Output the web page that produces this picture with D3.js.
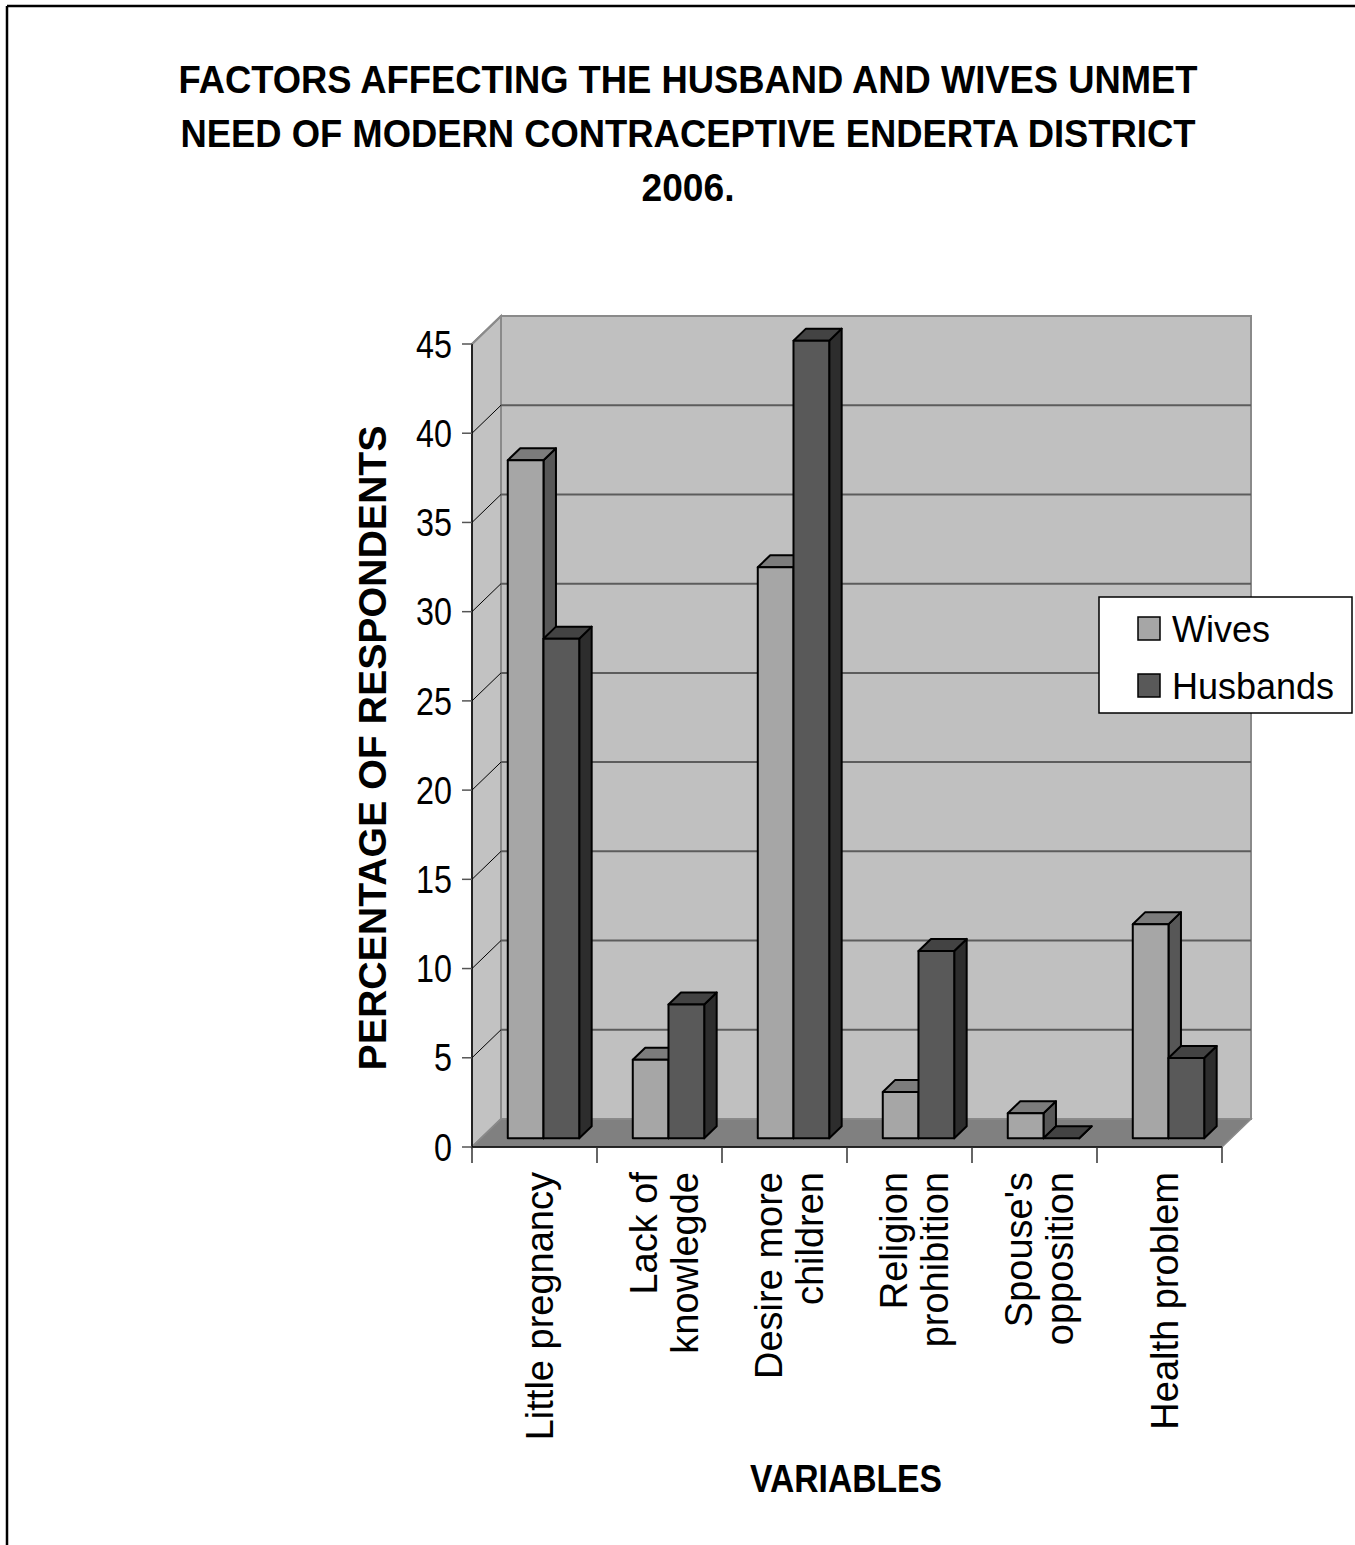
<!DOCTYPE html>
<html>
<head>
<meta charset="utf-8">
<script src="https://cdn.jsdelivr.net/npm/d3@7/dist/d3.min.js"></script>
<style>
  html, body { margin: 0; padding: 0; background: #fff; }
  svg { display: block; font-family: "Liberation Sans", Arial, sans-serif; }
</style>
</head>
<body>
<svg id="chart" width="1355" height="1545"></svg>
<script>
// Factor categories (each entry is the lines of its axis label)
const categories = [
  ["Little pregnancy"],
  ["Lack of", "knowlegde"],
  ["Desire more", "children"],
  ["Religion", "prohibition"],
  ["Spouse's", "opposition"],
  ["Health problem"]
];
const seriesNames = ["Wives", "Husbands"];
const wives    = [38, 4.4, 32, 2.6, 1.4, 12];
const husbands = [28, 7.5, 44.7, 10.5, 0, 4.5];
const yTicks = [0, 5, 10, 15, 20, 25, 30, 35, 40, 45];
const titleLines = [
  "FACTORS AFFECTING THE HUSBAND AND WIVES UNMET",
  "NEED OF MODERN CONTRACEPTIVE ENDERTA DISTRICT",
  "2006."
];
const yTitle = "PERCENTAGE OF RESPONDENTS";
const xTitle = "VARIABLES";

const svg = d3.select("#chart");
const W = 1355;

// frame around the page
svg.append("line").attr("x1", 7).attr("y1", 6).attr("x2", W).attr("y2", 6)
  .attr("stroke", "#000").attr("stroke-width", 2.5);
svg.append("line").attr("x1", 7).attr("y1", 6).attr("x2", 7).attr("y2", 1545)
  .attr("stroke", "#000").attr("stroke-width", 2.5);

// title (narrow bold face)
const titleG = svg.append("g");
const titleWidths = [1019, 1015, 93];
titleLines.forEach((t, i) => {
  titleG.append("text")
    .attr("x", 688).attr("y", 93 + i * 54)
    .attr("text-anchor", "middle")
    .attr("font-size", 39).attr("font-weight", "bold")
    .attr("textLength", titleWidths[i]).attr("lengthAdjust", "spacingAndGlyphs")
    .text(t);
});

// 3D plot geometry: front plane and depth offset
const x0 = 472, x1 = 1222;
const depth = { dx: 29, dy: -28 };
const barOffset = 0.31;   // bar front plane as fraction of depth
const barDepth = 0.43;    // bar thickness as fraction of depth

const y = d3.scaleLinear().domain([0, 45]).range([1147, 344]);
const x = d3.scaleBand().domain(d3.range(categories.length)).range([x0, x1]).paddingInner(0).paddingOuter(0);
const xs = d3.scaleBand().domain(seriesNames).range([0, x.bandwidth()]).paddingInner(0).paddingOuter(0.75);

const plot = svg.append("g");
const pt = (px, py, f) => [px + depth.dx * f, py + depth.dy * f];

// side wall (left)
plot.append("polygon")
  .attr("points", [pt(x0, y(0), 0), pt(x0, y(45), 0), pt(x0, y(45), 1), pt(x0, y(0), 1)].join(" "))
  .attr("fill", "#c2c2c2").attr("stroke", "#8a8a8a").attr("stroke-width", 2);
// back wall
plot.append("polygon")
  .attr("points", [pt(x0, y(0), 1), pt(x0, y(45), 1), pt(x1, y(45), 1), pt(x1, y(0), 1)].join(" "))
  .attr("fill", "#c0c0c0").attr("stroke", "#8a8a8a").attr("stroke-width", 2);
// floor
plot.append("polygon")
  .attr("points", [pt(x0, y(0), 0), pt(x1, y(0), 0), pt(x1, y(0), 1), pt(x0, y(0), 1)].join(" "))
  .attr("fill", "#808080").attr("stroke", "#8a8a8a").attr("stroke-width", 1.5);

// gridlines: back wall horizontal, side wall diagonal
yTicks.filter(v => v > 0 && v < 45).forEach(v => {
  const a = pt(x0, y(v), 1), b = pt(x1, y(v), 1);
  plot.append("line").attr("x1", a[0]).attr("y1", a[1]).attr("x2", b[0]).attr("y2", b[1])
    .attr("stroke", "#5c5c5c").attr("stroke-width", 2);
});
yTicks.filter(v => v > 0).forEach(v => {
  const a = pt(x0, y(v), 0), b = pt(x0, y(v), 1);
  plot.append("line").attr("x1", a[0]).attr("y1", a[1]).attr("x2", b[0]).attr("y2", b[1])
    .attr("stroke", v === 45 ? "#8a8a8a" : "#000").attr("stroke-width", v === 45 ? 2 : 1);
});

// y axis
plot.append("line").attr("x1", x0).attr("y1", y(0)).attr("x2", x0).attr("y2", y(45))
  .attr("stroke", "#000").attr("stroke-width", 1.5);
yTicks.forEach(v => {
  plot.append("line").attr("x1", x0 - 10).attr("y1", y(v)).attr("x2", x0).attr("y2", y(v))
    .attr("stroke", "#555").attr("stroke-width", 1.5);
  plot.append("text")
    .attr("transform", `translate(452,${y(v)}) scale(0.85,1)`)
    .attr("dy", "0.36em")
    .attr("text-anchor", "end").attr("font-size", 38).text(v);
});

// x axis
plot.append("line").attr("x1", x0).attr("y1", y(0)).attr("x2", x1).attr("y2", y(0))
  .attr("stroke", "#000").attr("stroke-width", 1.5);
d3.range(categories.length + 1).forEach(i => {
  const xx = x0 + i * x.step();
  plot.append("line").attr("x1", xx).attr("y1", y(0)).attr("x2", xx).attr("y2", y(0) + 16)
    .attr("stroke", "#333").attr("stroke-width", 1.5);
});

// bars
const colors = {
  Wives:    { front: "#a6a6a6", top: "#7c7c7c", side: "#575757" },
  Husbands: { front: "#595959", top: "#434343", side: "#2d2d2d" }
};
const data = categories.map((c, i) => ({ i, values: [wives[i], husbands[i]] }));
data.forEach(d => {
  seriesNames.forEach((s, k) => {
    const v = d.values[k];
    const bx = x(d.i) + xs(s), bw = xs.bandwidth();
    const f0 = barOffset, f1 = barOffset + barDepth;
    const c = colors[s];
    const g = plot.append("g").attr("stroke", "#000").attr("stroke-width", 2).attr("stroke-linejoin", "round");
    // right side face
    g.append("polygon").attr("points",
      [pt(bx + bw, y(0), f0), pt(bx + bw, y(v), f0), pt(bx + bw, y(v), f1), pt(bx + bw, y(0), f1)].join(" "))
      .attr("fill", c.side);
    // top face
    g.append("polygon").attr("points",
      [pt(bx, y(v), f0), pt(bx + bw, y(v), f0), pt(bx + bw, y(v), f1), pt(bx, y(v), f1)].join(" "))
      .attr("fill", c.top);
    // front face
    if (v > 0) {
      g.append("polygon").attr("points",
        [pt(bx, y(0), f0), pt(bx + bw, y(0), f0), pt(bx + bw, y(v), f0), pt(bx, y(v), f0)].join(" "))
        .attr("fill", c.front);
    }
  });
});

// category labels (rotated)
categories.forEach((lines, i) => {
  const cx = x(i) + x.bandwidth() / 2 + 5;
  const lh = 41;
  lines.forEach((ln, j) => {
    const lx = cx + (j - (lines.length - 1) / 2) * lh;
    svg.append("text")
      .attr("transform", `translate(${lx},1172) rotate(-90)`)
      .attr("text-anchor", "end").attr("dy", "0.35em")
      .attr("font-size", 38).text(ln);
  });
});

// axis titles
svg.append("text")
  .attr("transform", "translate(386,748) rotate(-90)")
  .attr("text-anchor", "middle").attr("font-size", 39).attr("font-weight", "bold")
  .attr("textLength", 645).attr("lengthAdjust", "spacingAndGlyphs")
  .text(yTitle);
svg.append("text")
  .attr("x", 846).attr("y", 1492).attr("text-anchor", "middle")
  .attr("font-size", 39).attr("font-weight", "bold")
  .attr("textLength", 192).attr("lengthAdjust", "spacingAndGlyphs")
  .text(xTitle);

// legend
const lg = svg.append("g");
lg.append("rect").attr("x", 1099).attr("y", 597).attr("width", 253).attr("height", 116)
  .attr("fill", "#fff").attr("stroke", "#000").attr("stroke-width", 1.5);
seriesNames.forEach((s, k) => {
  lg.append("rect").attr("x", 1138).attr("y", 617 + k * 57).attr("width", 22).attr("height", 23)
    .attr("fill", colors[s].front).attr("stroke", "#000").attr("stroke-width", 1.5);
  lg.append("text").attr("x", 1172).attr("y", 642 + k * 57)
    .attr("font-size", 36).text(s);
});
</script>
</body>
</html>
